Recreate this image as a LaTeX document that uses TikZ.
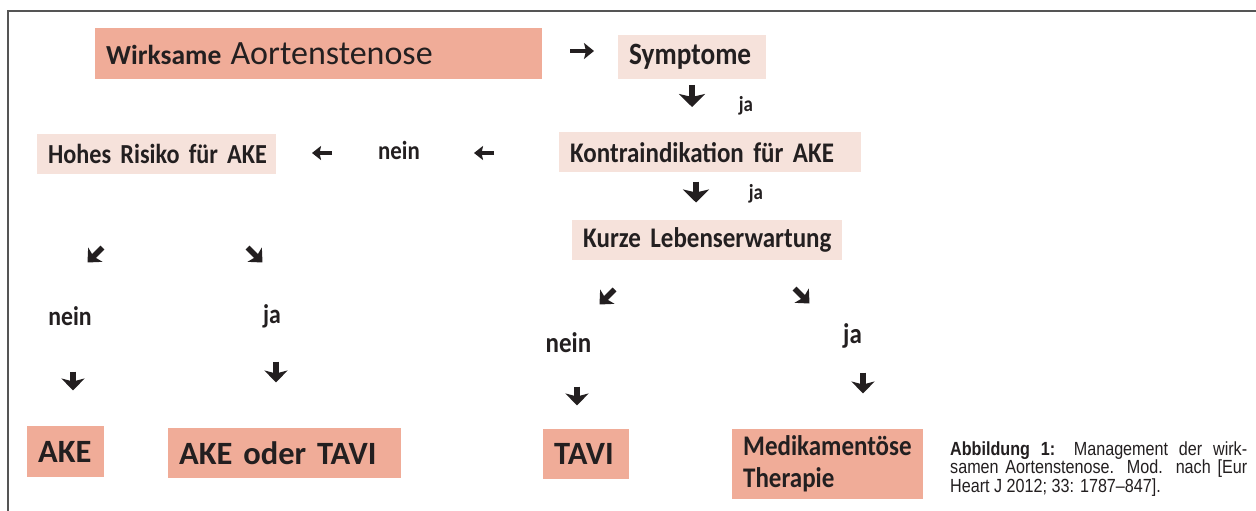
\documentclass[tikz,border=0pt]{standalone}
\usepackage{fontspec}
\setmainfont{Carlito}
\newfontfamily\tallfont[FakeStretch=0.88]{Carlito}
\newfontfamily\capfont[FakeStretch=0.85]{Liberation Sans}
\usetikzlibrary{calc,arrows.meta}
\definecolor{salmon}{RGB}{240,172,152}
\definecolor{blush}{RGB}{246,226,219}
\definecolor{ink}{RGB}{35,31,32}
\definecolor{framegray}{RGB}{85,85,85}
\def\blockarrow[#1](#2,#3)(#4,#5){\draw[#1] ($(#2,#3)-(#4,#5)$) -- ($(#2,#3)+(#4,#5)$);}
\tikzset{
	box/.style={anchor=north west, inner xsep=11pt, inner ysep=0pt, align=left, text=ink, font=\tallfont\bfseries\fontsize{28.4}{32}\selectfont},
	palebox/.style={box, fill=blush},
	strongbox/.style={box, fill=salmon, font=\bfseries\fontsize{32.5}{36}\selectfont},
	answer/.style={anchor=base, inner sep=0pt, text=ink, font=\tallfont\bfseries\fontsize{27}{31}\selectfont},
	caption/.style={anchor=base west, inner sep=0pt, text=ink, font=\capfont\fontsize{19}{19}\selectfont},
	bigarrow/.style={draw=ink, line width=6pt, -{Stealth[length=13pt,width=26pt,inset=3pt]}},
	downarrow/.style={draw=ink, line width=5.5pt, -{Stealth[length=12pt,width=23pt,inset=3pt]}},
	slantarrow/.style={draw=ink, line width=5.5pt, -{Stealth[length=11pt,width=20pt,inset=2.5pt]}},
	sidearrow/.style={draw=ink, line width=3.8pt, -{Stealth[length=9pt,width=14pt,inset=1.5pt]}},
}

\begin{document}
\begin{tikzpicture}[x=1pt,y=-1pt]
			%%%%% START %%%%%
			
			\fill[white] (0,0) rectangle (1256,511);
			\useasboundingbox (0,0) rectangle (1256,511);
			\draw[framegray, line width=1.6pt] (1256,11) -- (8,11) -- (8,511);
			
			% boxes
			\node[strongbox, font=\bfseries\fontsize{27.5}{31}\selectfont, text width=425pt, minimum height=51pt] (stenose) at (95,28) {\mbox{Wirksame {\mdseries\fontsize{34}{37}\selectfont Aortenstenose}}};
			\node[palebox, font=\tallfont\bfseries\fontsize{31}{35}\selectfont, text width=126pt, minimum height=44pt] (symptome) at (618,35) {\mbox{Symptome}};
			\node[palebox, text width=280pt, minimum height=40pt] (kontra) at (559,132) {\mbox{Kontraindikation für AKE}};
			\node[palebox, font=\tallfont\bfseries\fontsize{27.5}{31}\selectfont, text width=217pt, minimum height=40pt] (risiko) at (37,134) {\mbox{Hohes Risiko für AKE}};
			\node[palebox, text width=248pt, minimum height=40pt] (leben) at (572,220) {\mbox{Kurze Lebenserwartung}};
			
			\node[strongbox, text width=55pt, minimum height=51pt] (ake) at (27,426) {\mbox{AKE}};
			\node[strongbox, text width=211pt, minimum height=50pt] (akeortavi) at (168,428) {\mbox{AKE oder TAVI}};
			\node[strongbox, text width=64pt, minimum height=50pt] (tavi) at (543,429) {\mbox{TAVI}};
			\node[palebox, fill=salmon, text width=169pt, minimum height=70pt] (medik) at (732,429) {\mbox{Medikamentöse}\\\mbox{Therapie}};
			
			% answers
			\node[answer, font=\tallfont\bfseries\fontsize{21.5}{25}\selectfont] (ja1) at (746,111) {ja};
			\node[answer, font=\tallfont\bfseries\fontsize{21.5}{25}\selectfont] (ja2) at (756,199) {ja};
			\node[answer, font=\tallfont\bfseries\fontsize{26}{30}\selectfont] (nein1) at (399,159) {nein};
			\node[answer] (nein2) at (70,325) {nein};
			\node[answer] (ja3) at (272,323) {ja};
			\node[answer, font=\tallfont\bfseries\fontsize{28.4}{32}\selectfont] (nein3) at (568.5,352) {nein};
			\node[answer, font=\tallfont\bfseries\fontsize{28.4}{32}\selectfont] (ja4) at (852.5,343) {ja};
			
			% arrows
			\blockarrow[sidearrow, line width=4.8pt, -{Stealth[length=10pt,width=16pt,inset=2pt]}](582,51)(12,0)
			\blockarrow[bigarrow](692,96)(0,11)
			\blockarrow[bigarrow](696,192)(0,10.5)
			\blockarrow[sidearrow](322,153)(-10,0)
			\blockarrow[sidearrow](484,153)(-10,0)
			\blockarrow[slantarrow](95,255)(-7.5,7.5)
			\blockarrow[slantarrow](255,255)(7.5,7.5)
			\blockarrow[slantarrow](607,297)(-7.5,7.5)
			\blockarrow[slantarrow](802,296)(7.5,7.5)
			\blockarrow[downarrow](73,381)(0,9.5)
			\blockarrow[downarrow](276,372)(0,10.5)
			\blockarrow[downarrow](577,396)(0,9.5)
			\blockarrow[downarrow](863,383)(0,10.5)
			
			% caption
			\node[caption] (cap1) at (950,455) {\makebox[297pt][s]{\textbf{Abbildung 1:} Management der wirk-}};
			\node[caption] (cap2) at (950,473.5) {\makebox[297pt][s]{samen Aortenstenose. Mod. nach [Eur}};
			\node[caption] (cap3) at (950,492) {Heart J 2012; 33: 1787–847].};
			
			%%%%% END %%%%%
\end{tikzpicture}
\end{document}
